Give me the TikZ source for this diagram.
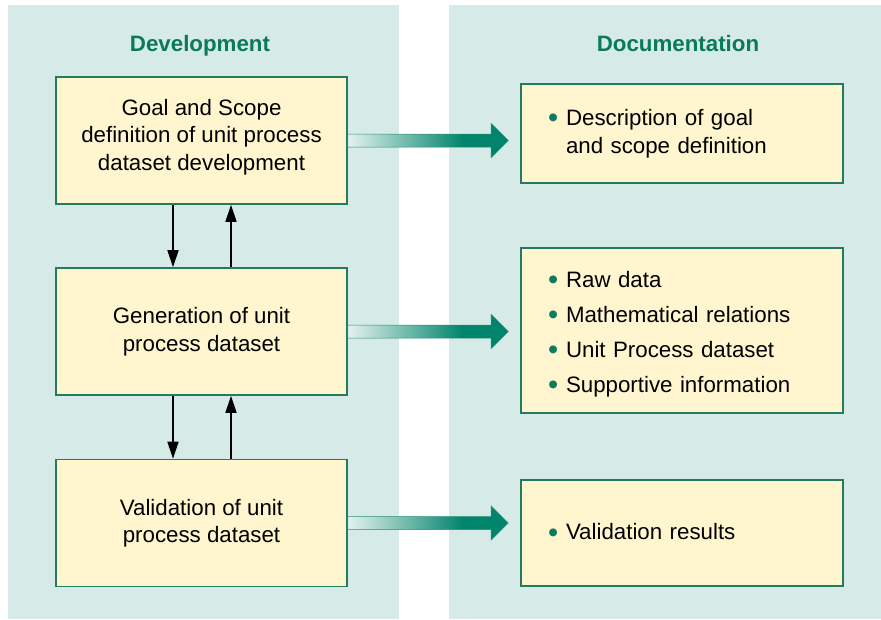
\documentclass[tikz,border=0pt]{standalone}
\usepackage{fontspec}
\usepackage{graphicx}
\setmainfont{Liberation Sans}
\usetikzlibrary{arrows.meta,calc}
\definecolor{panelbg}{HTML}{D6EBE7}
\definecolor{boxfill}{HTML}{FFF6CF}
\definecolor{boxedge}{HTML}{247C60}
\definecolor{titlegreen}{HTML}{0A7A5A}
\definecolor{arrlight}{HTML}{E4F2EF}
\definecolor{arrdark}{HTML}{00846B}
\definecolor{arredge}{HTML}{2C8C72}
\definecolor{bulletc}{HTML}{0F7A5E}
\pgfdeclarehorizontalshading{arrowshade}{100bp}{color(0bp)=(arrlight); color(25bp)=(arrlight); color(61bp)=(arrdark); color(100bp)=(arrdark)}
\newcommand\fatarrow[2]{%
  \path let \p1=(#1.east), \p2=(#2.west) in
    [shade, shading=arrowshade, draw=arredge, line width=0.5pt]
    (\x1,\y1+6.5pt) -- (\x2-29pt,\y1+6.5pt) -- (\x2-29pt,\y1+17pt) -- (\x2-12pt,\y1)
    -- (\x2-29pt,\y1-17pt) -- (\x2-29pt,\y1-6.5pt) -- (\x1,\y1-6.5pt) -- cycle;}
\newcommand\bul{\makebox[18pt][l]{\raisebox{-0.1em}{\color{bulletc}\scalebox{1.3}{\textbullet}}}}
\begin{document}
\begin{tikzpicture}[x=1pt,y=-1pt,
  boxstyle/.style={draw=boxedge, line width=1.6pt, fill=boxfill, inner sep=0pt},
  devbox/.style={boxstyle, minimum width=291pt, minimum height=127pt, align=center,
    font={\fontsize{22.3}{27.5}\selectfont}},
  docbox/.style={boxstyle, minimum width=322pt,
    text width=268pt, inner xsep=27pt, align=left,
    font={\fontsize{22.3}{28}\selectfont}},
  doctext/.style={text width=268pt, inner sep=0pt, align=left,
    font={\fontsize{22.3}{35}\selectfont}},
  devtext/.style={inner sep=0pt, align=center, font={\fontsize{22.3}{27.5}\selectfont}},
  title/.style={font={\fontsize{22.3}{26}\selectfont\bfseries}, text=titlegreen, anchor=base},
  varrow/.style={draw=black, line width=1.6pt, -{Triangle[length=17pt,width=11pt]}}]
\useasboundingbox (0,0) rectangle (881,619);
\fill[panelbg] (8,5) rectangle (399,619);
\fill[panelbg] (449,5) rectangle (881,619);
\node[title] (t1) at (200,51.5) {Development};
\node[title] (t2) at (678,51.5) {Documentation};
\node[devbox] (g1) at (201.5,140.5) {};
\node[devtext] (g1t) at ([yshift=3.5pt]g1.center) {Goal and Scope\\definition of unit process\\dataset development};
\node[devbox] (g2) at (201.5,331.5) {Generation of unit\\process dataset};
\node[devbox] (g3) at (201.5,523) {Validation of unit\\process dataset};
\node[docbox, minimum height=99pt] (d1) at (682,133.5) {\bul Description of goal\\\phantom{\bul}and scope definition};
\node[docbox, minimum height=165pt] (d2) at (682,330.5) {};
\node[doctext] (d2t) at ([yshift=-3.5pt]d2.center) {\bul Raw data\\\bul Mathematical relations\\\bul Unit Process dataset\\\bul Supportive information};
\node[docbox, minimum height=106pt] (d3) at (682,533) {\bul Validation results};
\draw[varrow] ([xshift=-28.5pt]g1.south) -- ([xshift=-28.5pt]g2.north);
\draw[varrow] ([xshift=29.5pt]g2.north) -- ([xshift=29.5pt]g1.south);
\draw[varrow] ([xshift=-28.5pt]g2.south) -- ([xshift=-28.5pt]g3.north);
\draw[varrow] ([xshift=29.5pt]g3.north) -- ([xshift=29.5pt]g2.south);
\fatarrow{g1}{d1}
\fatarrow{g2}{d2}
\fatarrow{g3}{d3}
\end{tikzpicture}
\end{document}
